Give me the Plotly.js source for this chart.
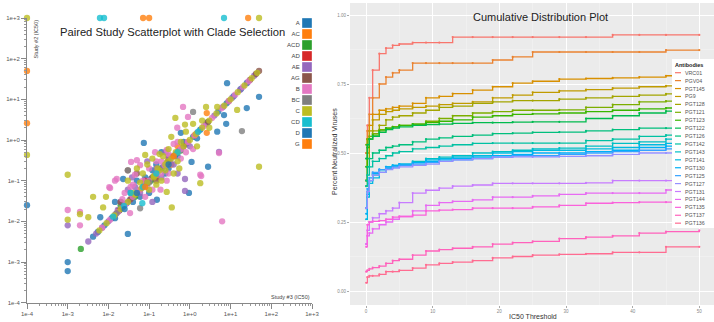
<!DOCTYPE html>
<html><head><meta charset="utf-8">
<script src="https://cdn.plot.ly/plotly-3.0.1.min.js"></script>
<style>html,body{margin:0;padding:0;background:#fff}#chart{width:714px;height:322px}</style>
</head><body><div id="chart"></div>
<script>
// ---------- Left: paired study scatter (x = Study #3 IC50, y = Study #2 IC50) ----------
const clades = ['A','AC','ACD','AD','AE','AG','B','BC','C','CD','D','G'];
const cladeColors = ['#1f77b4','#ff7f0e','#2ca02c','#d62728','#9467bd','#8c564b','#e377c2','#7f7f7f','#bcbd22','#17becf','#1f77b4','#ff7f0e'];
const xTickVals = [1e-4,1e-3,1e-2,1e-1,1,10,100,1000];
const xTickText = ['1e-4','1e-3','1e-2','1e-1','1e+0','1e+1','1e+2','1e+3'];

const A_x = [0.001,0.001,0.0001,0.0063,0.0145,0.03,0.0145,0.155,0.95,2.8,1.1,0.074,8.2,50,25,6.9,4.7,7.8,0.023,0.05,0.1,0.3,0.2,0.5,0.6,0.04,0.08,0.15,0.035,0.12,0.25,0.7,1.5,0.06,0.0042,0.0055,0.008,0.012,0.019,0.028,0.042,0.075,0.11,0.2,0.3,0.45,0.8,1.2,1.8,2.7,5,8,12,18,25];
const A_y = [0.001,0.0006,0.025,0.0126,0.03,0.0049,0.012,0.034,0.05,0.22,0.29,0.85,25,11.5,6.1,4.1,1.6,2.5,0.11,0.1,0.05,0.2,0.5,0.4,1.5,0.03,0.12,0.25,0.05,0.18,0.15,0.9,1.1,0.04,0.0042,0.0055,0.008,0.012,0.019,0.028,0.042,0.075,0.11,0.2,0.3,0.45,0.8,1.2,1.8,2.7,5,8,12,18,25];
const AC_x = [0.071,0.1,27,0.0001,0.0001,2.6,2.6,0.15,0.5,0.06,0.9,0.35,1.3];
const AC_y = [1000,1000,1000,50,2.6,4.6,1.5,0.12,0.7,0.06,0.9,0.25,1.3];
const ACD_x = [0.0021,0.045,0.2,0.02,0.11,0.6];
const ACD_y = [0.0021,0.04,0.2,0.025,0.1,0.55];
const AD_x = [0.08,0.3];
const AD_y = [0.1,0.35];
const AE_x = [0.001,0.017,0.12,0.76,0.76,0.038,5.2,0.03,0.06,0.09,0.2,0.25,0.4,0.5,0.045,0.15,0.3,1,0.02,0.0032,0.005,0.007,0.01,0.015,0.022,0.033,0.05,0.08,0.14,0.22,0.32,0.55,0.85,1.5,2.5,4,6.5,11,17,26,38];
const AE_y = [0.008,0.019,0.03,0.056,0.11,0.12,0.51,0.06,0.05,0.3,0.12,0.5,0.25,0.15,0.07,0.2,0.4,0.7,0.03,0.0032,0.005,0.007,0.01,0.015,0.022,0.033,0.05,0.08,0.14,0.22,0.32,0.55,0.85,1.5,2.5,4,6.5,11,17,26,38];
const AG_x = [0.03,0.02,0.05,0.15,0.018,0.035,0.12,0.28,0.7,2.8,9,30,42,50];
const AG_y = [0.18,0.03,0.15,0.1,0.018,0.035,0.12,0.28,0.7,2.8,9,30,42,50];
const B_x = [0.001,0.002,0.002,0.0105,0.016,0.011,0.0145,0.034,0.036,0.05,0.06,0.14,0.19,0.27,1.8,1.9,6.2,5.2,0.49,0.68,0.9,0.27,0.04,0.08,0.1,0.2,0.3,0.025,0.045,0.12,0.4,0.6,0.15,1.2,0.07,0.09,0.3,0.5,0.022,0.035,0.2,0.8,0.007,0.011,0.017,0.026,0.04,0.06,0.1,0.16,0.24,0.4,0.6,0.9,1.3,2.2,3.5,6,9,13,20,28];
const B_y = [0.019,0.017,0.008,0.069,0.11,0.066,0.1,0.016,0.29,0.32,0.24,0.5,0.06,0.1,0.14,0.13,0.01,0.48,2.0,6.5,3.7,0.57,0.08,0.04,0.2,0.3,0.15,0.05,0.14,0.06,0.8,0.35,0.3,0.6,0.1,0.07,0.45,0.9,0.035,0.07,0.15,0.5,0.007,0.011,0.017,0.026,0.04,0.06,0.1,0.16,0.24,0.4,0.6,0.9,1.3,2.2,3.5,6,9,13,20,28];
const BC_x = [19,1.2,0.03,0.06,0.1,0.016,0.09,0.4];
const BC_y = [1.66,4.9,0.18,0.021,0.09,0.016,0.09,0.4];
const C_x = [0.0001,0.0001,50,0.001,0.001,0.002,0.0032,0.0042,0.0087,0.0074,0.36,0.27,1.8,50,0.44,4.7,14.5,2.5,0.76,0.08,0.05,0.03,0.12,0.2,0.4,0.6,0.15,0.09,0.3,0.5,1.5,2,0.25,0.07,0.18,0.35,3,0.1,0.16,0.22,0.45,0.8,1.2,0.06,0.04,0.28,0.55,0.13,0.006,0.009,0.014,0.02,0.03,0.045,0.065,0.09,0.13,0.18,0.25,0.35,0.5,0.7,1,1.4,2,3,4.5,7,10,15,22,33,45];
const C_y = [1000,0.43,1000,0.14,0.011,0.015,0.0126,0.04,0.04,0.022,0.022,0.053,0.087,0.22,3.5,6.5,5.5,6.5,2.4,0.43,0.2,0.1,0.35,0.1,0.15,0.9,0.08,0.25,0.6,0.3,0.7,3,0.18,0.15,0.45,1.2,2,0.06,0.2,0.4,0.5,1.6,2.5,0.09,0.05,0.3,0.2,0.12,0.006,0.009,0.014,0.02,0.03,0.045,0.065,0.09,0.13,0.18,0.25,0.35,0.5,0.7,1,1.4,2,3,4.5,7,10,15,22,33,45];
const CD_x = [0.0062,0.0078,6.9,0.068,0.013,0.024,0.07,0.15,0.5,1.6,0.035];
const CD_y = [1000,1000,1000,0.028,0.013,0.024,0.07,0.15,0.5,1.6,0.05];
const D_x = [0.05,0.3,0.025];
const D_y = [0.05,0.25,0.02];
const G_x = [0.4,0.08];
const G_y = [0.4,0.07];
const cladeData = [[A_x,A_y],[AC_x,AC_y],[ACD_x,ACD_y],[AD_x,AD_y],[AE_x,AE_y],[AG_x,AG_y],[B_x,B_y],[BC_x,BC_y],[C_x,C_y],[CD_x,CD_y],[D_x,D_y],[G_x,G_y]];

// ---------- Right: cumulative distribution ----------
const antibodies = ['VRC01','PGV04','PGT145','PG9','PGT128','PGT121','PGT123','PGT122','PGT126','PGT142','PGT143','PGT141','PGT130','PGT125','PGT127','PGT131','PGT144','PGT135','PGT137','PGT136'];
const abColors = ['#F8766D','#EA8331','#D89000','#C09B00','#A3A500','#7CAE00','#39B600','#00BB4E','#00BF7D','#00C1A3','#00BFC4','#00BAE0','#00B0F6','#35A2FF','#9590FF','#C77CFF','#E76BF3','#FA62DB','#FF62BC','#FF6C91'];
const thresholds = [0.02,0.2,0.5,1,2,3,4,5,7,9,11,13,16,19,22,25,29,33,37,41,45,50];
const VRC01  = [0.50,0.60,0.70,0.80,0.86,0.88,0.89,0.895,0.90,0.90,0.90,0.92,0.92,0.92,0.92,0.92,0.92,0.92,0.928,0.928,0.928,0.928];
const PGV04  = [0.50,0.58,0.64,0.70,0.75,0.775,0.79,0.80,0.826,0.826,0.826,0.826,0.826,0.837,0.848,0.866,0.866,0.866,0.866,0.866,0.873,0.873];
const PGT145 = [0.40,0.55,0.60,0.64,0.655,0.66,0.665,0.67,0.68,0.70,0.705,0.715,0.728,0.74,0.753,0.76,0.768,0.77,0.772,0.775,0.78,0.78];
const PG9    = [0.38,0.50,0.58,0.62,0.64,0.65,0.655,0.66,0.665,0.67,0.675,0.68,0.685,0.70,0.71,0.72,0.725,0.73,0.735,0.74,0.743,0.743];
const PGT128 = [0.40,0.48,0.55,0.58,0.60,0.62,0.63,0.635,0.645,0.655,0.665,0.67,0.68,0.685,0.69,0.69,0.695,0.70,0.705,0.71,0.714,0.714];
const PGT121 = [0.53,0.55,0.56,0.57,0.585,0.59,0.595,0.60,0.605,0.615,0.625,0.635,0.645,0.65,0.655,0.655,0.656,0.665,0.675,0.685,0.688,0.688];
const PGT123 = [0.45,0.52,0.55,0.565,0.58,0.59,0.595,0.60,0.605,0.61,0.615,0.62,0.63,0.635,0.64,0.642,0.645,0.65,0.655,0.66,0.663,0.663];
const PGT122 = [0.48,0.53,0.55,0.56,0.575,0.585,0.59,0.595,0.60,0.603,0.605,0.607,0.61,0.61,0.612,0.613,0.613,0.625,0.635,0.645,0.652,0.652];
const PGT126 = [0.40,0.45,0.48,0.50,0.51,0.52,0.525,0.53,0.54,0.55,0.555,0.56,0.565,0.57,0.572,0.575,0.576,0.58,0.585,0.59,0.59,0.59];
const PGT142 = [0.38,0.42,0.45,0.47,0.48,0.49,0.50,0.505,0.515,0.52,0.525,0.53,0.535,0.536,0.536,0.536,0.536,0.545,0.55,0.56,0.565,0.565];
const PGT143 = [0.30,0.36,0.40,0.42,0.44,0.45,0.455,0.46,0.47,0.48,0.485,0.49,0.50,0.505,0.51,0.515,0.518,0.525,0.535,0.54,0.55,0.55];
const PGT141 = [0.26,0.34,0.39,0.41,0.43,0.445,0.45,0.455,0.465,0.475,0.48,0.485,0.49,0.50,0.505,0.51,0.51,0.515,0.52,0.53,0.535,0.535];
const PGT130 = [0.28,0.35,0.40,0.425,0.44,0.45,0.455,0.46,0.465,0.47,0.475,0.48,0.485,0.49,0.495,0.50,0.50,0.505,0.51,0.52,0.525,0.525];
const PGT125 = [0.30,0.37,0.41,0.43,0.44,0.445,0.45,0.455,0.46,0.465,0.47,0.475,0.48,0.485,0.49,0.49,0.495,0.50,0.505,0.51,0.515,0.515];
const PGT127 = [0.30,0.36,0.40,0.42,0.43,0.44,0.445,0.45,0.455,0.46,0.47,0.475,0.48,0.485,0.486,0.486,0.488,0.49,0.495,0.50,0.50,0.50];
const PGT131 = [0.17,0.22,0.25,0.265,0.28,0.29,0.30,0.32,0.355,0.365,0.373,0.38,0.384,0.39,0.39,0.39,0.39,0.392,0.40,0.40,0.40,0.40];
const PGT144 = [0.17,0.20,0.21,0.225,0.24,0.25,0.26,0.27,0.29,0.31,0.32,0.325,0.33,0.34,0.34,0.345,0.35,0.355,0.355,0.355,0.366,0.366];
const PGT135 = [0.16,0.24,0.25,0.252,0.255,0.26,0.268,0.27,0.275,0.29,0.293,0.295,0.30,0.30,0.30,0.305,0.31,0.318,0.32,0.322,0.322,0.322];
const PGT137 = [0.07,0.075,0.08,0.085,0.09,0.10,0.11,0.115,0.13,0.145,0.15,0.155,0.16,0.17,0.175,0.18,0.19,0.195,0.20,0.21,0.215,0.22];
const PGT136 = [0.03,0.05,0.055,0.055,0.06,0.07,0.07,0.075,0.083,0.095,0.10,0.105,0.11,0.12,0.125,0.13,0.133,0.135,0.14,0.14,0.16,0.16];
const abSeries = [VRC01,PGV04,PGT145,PG9,PGT128,PGT121,PGT123,PGT122,PGT126,PGT142,PGT143,PGT141,PGT130,PGT125,PGT127,PGT131,PGT144,PGT135,PGT137,PGT136];

const W = 714, H = 322;
const px = v => v / W, py = v => (H - v) / H;
const FONT = 'Liberation Sans, Arial, sans-serif';

const traces = [];
cladeData.forEach((d, i) => {
  traces.push({type:'scatter', mode:'markers', x:d[0], y:d[1], xaxis:'x', yaxis:'y', cliponaxis:false,
    marker:{size:6.3, color:cladeColors[i], opacity:0.8}, hoverinfo:'skip'});
});
// left legend (squares with labels on the left)
traces.push({type:'scatter', mode:'markers+text', x:clades.map(() => 0.567), y:clades, xaxis:'x3', yaxis:'y3',
  marker:{symbol:'square', size:10, color:cladeColors, line:{color:'rgba(255,255,255,0.6)', width:0.6}},
  text:clades, textposition:'middle left', textfont:{size:6, color:'#444', family:FONT}, cliponaxis:false, hoverinfo:'skip'});
// CDF lines
abSeries.forEach((s, i) => {
  traces.push({type:'scatter', mode:'lines+markers', x:thresholds, y:s, xaxis:'x2', yaxis:'y2',
    line:{color:abColors[i], width:1.3, shape:'hv'}, marker:{size:2.2, color:abColors[i]}, hoverinfo:'skip'});
});

const shapes = [
  {type:'rect', xref:'x2 domain', yref:'y2 domain', x0:0, x1:1, y0:0, y1:1, fillcolor:'#ebebeb', line:{width:0}, layer:'below'},
  {type:'rect', xref:'paper', yref:'paper', x0:px(672), x1:1.01, y0:py(228), y1:py(59), fillcolor:'#ffffff', line:{width:0}, layer:'above'}
];
const annotations = [
  {text:'Paired Study Scatterplot with Clade Selection', xref:'paper', yref:'paper', x:px(172), y:py(32), xanchor:'center', yanchor:'middle', showarrow:false, font:{size:11.2, color:'#222', family:FONT}},
  {text:'Cumulative Distribution Plot', xref:'paper', yref:'paper', x:px(540), y:py(17), xanchor:'center', yanchor:'middle', showarrow:false, font:{size:11, color:'#222', family:FONT}},
  {text:'Study #2 (IC50)', xref:'paper', yref:'paper', x:px(35), y:py(18), xanchor:'center', yanchor:'top', textangle:-90, showarrow:false, font:{size:5.5, color:'#444', family:FONT}},
  {text:'Study #3 (IC50)', xref:'paper', yref:'paper', x:px(312), y:py(297), xanchor:'right', yanchor:'middle', showarrow:false, font:{size:5.5, color:'#444', family:FONT}},
  {text:'Percent Neutralized Viruses', xref:'paper', yref:'paper', x:px(334), y:py(152), xanchor:'center', yanchor:'middle', textangle:-90, showarrow:false, font:{size:7, color:'#333', family:FONT}},
  {text:'IC50 Threshold', xref:'paper', yref:'paper', x:px(533), y:py(316), xanchor:'center', yanchor:'middle', showarrow:false, font:{size:7, color:'#333', family:FONT}},
  {text:'<b>Antibodies</b>', xref:'paper', yref:'paper', x:px(673), y:py(64.5), xanchor:'left', yanchor:'middle', showarrow:false, font:{size:5.5, color:'#222', family:FONT}}
];
antibodies.forEach((name, i) => {
  const yy = 72.7 + i * 7.92;
  shapes.push({type:'line', xref:'paper', yref:'paper', x0:px(675), x1:px(681), y0:py(yy), y1:py(yy), line:{color:abColors[i], width:1.2}, layer:'above'});
  annotations.push({text:name, xref:'paper', yref:'paper', x:px(683), y:py(yy), xanchor:'left', yanchor:'middle', showarrow:false, font:{size:5.3, color:'#555', family:FONT}});
});

const logAxis = {type:'log', range:[-4,3], showgrid:false, zeroline:false, showline:true, linecolor:'#888', linewidth:1,
  ticks:'outside', ticklen:5, tickcolor:'#888', tickmode:'array', tickvals:xTickVals, ticktext:xTickText,
  tickfont:{size:6, color:'#555', family:FONT}, minor:{ticks:'outside', ticklen:2.5, tickcolor:'#999', dtick:'D1', showgrid:false}};

const layout = {
  width:W, height:H, margin:{l:0, r:0, t:0, b:0}, paper_bgcolor:'#fff', plot_bgcolor:'rgba(0,0,0,0)', showlegend:false,
  font:{family:FONT},
  xaxis: Object.assign({}, logAxis, {domain:[px(27), px(312)], anchor:'y'}),
  yaxis: Object.assign({}, logAxis, {domain:[py(302.7), py(18)], anchor:'x'}),
  xaxis2: {domain:[px(350), 1], anchor:'y2', range:[-2.4, 52.2], tickmode:'array', tickvals:[0,10,20,30,40,50],
    showgrid:true, gridcolor:'#ffffff', gridwidth:1, zeroline:false, showline:false, ticks:'outside', ticklen:2, tickcolor:'#aaa',
    tickfont:{size:4.5, color:'#888', family:FONT}, minor:{dtick:5, showgrid:true, gridcolor:'#f5f5f5', gridwidth:0.5}},
  yaxis2: {domain:[py(305), py(3)], anchor:'x2', range:[-0.0507, 1.0435], tickmode:'array', tickvals:[0,0.25,0.5,0.75,1], tickformat:'.2f',
    showgrid:true, gridcolor:'#ffffff', gridwidth:1, zeroline:false, showline:false, ticks:'outside', ticklen:2, tickcolor:'#aaa',
    tickfont:{size:4.5, color:'#888', family:FONT}, minor:{dtick:0.125, showgrid:true, gridcolor:'#f5f5f5', gridwidth:0.5}},
  xaxis3: {domain:[px(290), px(320)], anchor:'y3', range:[0,1], visible:false},
  yaxis3: {domain:[py(149.5), py(17.5)], anchor:'x3', type:'category', categoryorder:'array', categoryarray:clades,
    range:[clades.length - 0.5, -0.5], visible:false},
  shapes: shapes, annotations: annotations
};

Plotly.newPlot('chart', traces, layout, {staticPlot:true});
</script></body></html>
